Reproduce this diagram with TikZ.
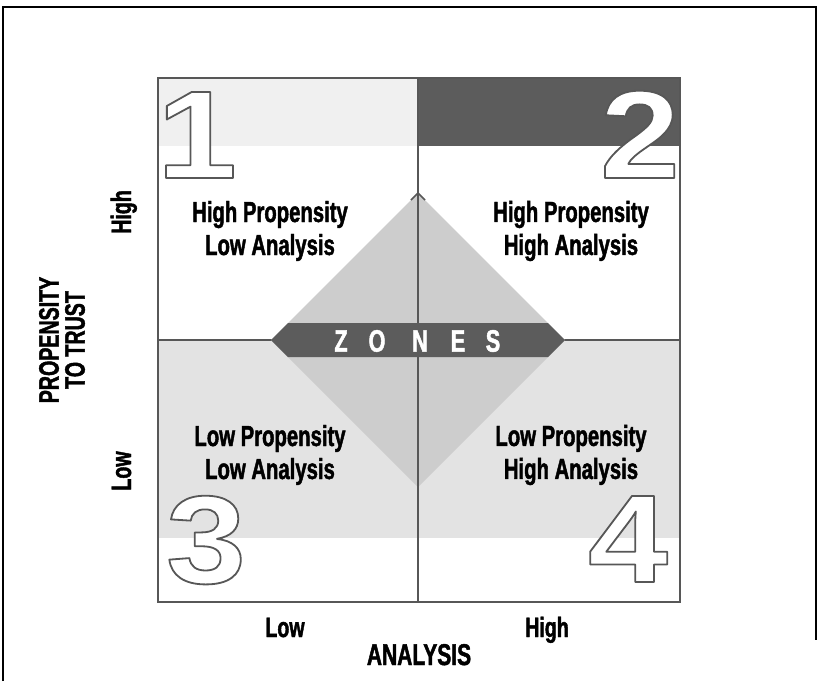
\documentclass[tikz,border=0pt]{standalone}
\usepackage{fontspec}
\usepackage{xcolor}
\usepackage{tikz}
\usetikzlibrary{positioning}
\newfontfamily\labelfont{Liberation Sans Bold}[FakeStretch=0.7, FakeBold=1.5]
\newfontfamily\numfont{Liberation Sans Bold}[FakeStretch=1.15]
\definecolor{zonegray}{HTML}{5C5C5C}
\definecolor{lightband}{HTML}{F0F0F0}
\definecolor{lowfill}{HTML}{E3E3E3}
\definecolor{diamondgray}{HTML}{CDCDCD}
\definecolor{linegray}{HTML}{575757}
% outlined digit: white fill, gray stroke
\newcommand{\outlinenum}[1]{\special{pdf:code q 2 Tr 1.8 w 1 J 1 j 0.34 0.34 0.34 RG 1 1 1 rg}#1\special{pdf:code Q}}
\tikzstyle{frameline} = [draw=linegray, line width=2.2pt]
\tikzstyle{quadlabel} = [font=\labelfont\fontsize{29}{33}\selectfont, align=center, inner sep=0pt]
\tikzstyle{axislabel} = [font=\labelfont\fontsize{28}{26}\selectfont, align=center, inner sep=0pt]
\tikzstyle{bignum} = [font=\numfont\fontsize{125}{125}\selectfont, inner sep=0pt, anchor=base]

\begin{document}
\begin{tikzpicture}[x=1pt, y=-1pt]
    \useasboundingbox (0,0) rectangle (818,681);
    % outer border
    \draw[black, line width=1.4pt] (3,681) -- (3,7) -- (816,7) -- (816,640);
    % quadrant fills
    \fill[lightband] (158,78) rectangle (418,146);
    \fill[zonegray] (418,78) rectangle (680,146);
    \fill[lowfill] (158,340) rectangle (680,538);
    \draw[frameline] (158,340) -- (680,340);
    % big numbers
    \node[bignum] (none) at (197,178) {\outlinenum{1}};
    \node[bignum] (ntwo) at (640,178) {\outlinenum{2}};
    \node[bignum] (nthree) at (206,583) {\outlinenum{3}};
    \node[bignum] (nfour) at (628,582) {\outlinenum{4}};
    % diamond
    \fill[diamondgray] (418,193) -- (565,340) -- (418,487) -- (271,340) -- cycle;
    \draw[frameline] (418,78) -- (418,602);
    \draw[linegray, line width=1.5pt] (411,200) -- (418,193) -- (425,200);
    \fill[zonegray] (271,340) -- (288,323) -- (548,323) -- (565,340) -- (548,357) -- (288,357) -- cycle;
    \foreach \x/\ltr in {341/Z, 377/O, 420/N, 458/E, 493/S}
        \node[font=\labelfont\fontsize{31}{31}\selectfont, text=white, inner sep=0pt] (zone\ltr) at (\x,341) {\ltr};
    \draw[frameline] (158,78) rectangle (680,602);
    % quadrant texts
    \node[quadlabel] (qone) at (270,231) {High Propensity\\Low Analysis};
    \node[quadlabel] (qtwo) at (571,231) {High Propensity\\High Analysis};
    \node[quadlabel] (qthree) at (270,455) {Low Propensity\\Low Analysis};
    \node[quadlabel] (qfour) at (571,455) {Low Propensity\\High Analysis};
    % axes
    \node[axislabel, anchor=base] (alow) at (285,637) {Low};
    \node[axislabel, anchor=base] (ahigh) at (547,637) {High};
    \node[axislabel, anchor=base, font=\labelfont\fontsize{30}{30}\selectfont] (analysis) at (419,665) {ANALYSIS};
    \node[axislabel, anchor=base, rotate=90] (thigh) at (131,212) {High};
    \node[axislabel, anchor=base, rotate=90] (tlow) at (131,471) {Low};
    \node[axislabel, rotate=90] (trust) at (62,340) {PROPENSITY\\TO TRUST};
\end{tikzpicture}
\end{document}
